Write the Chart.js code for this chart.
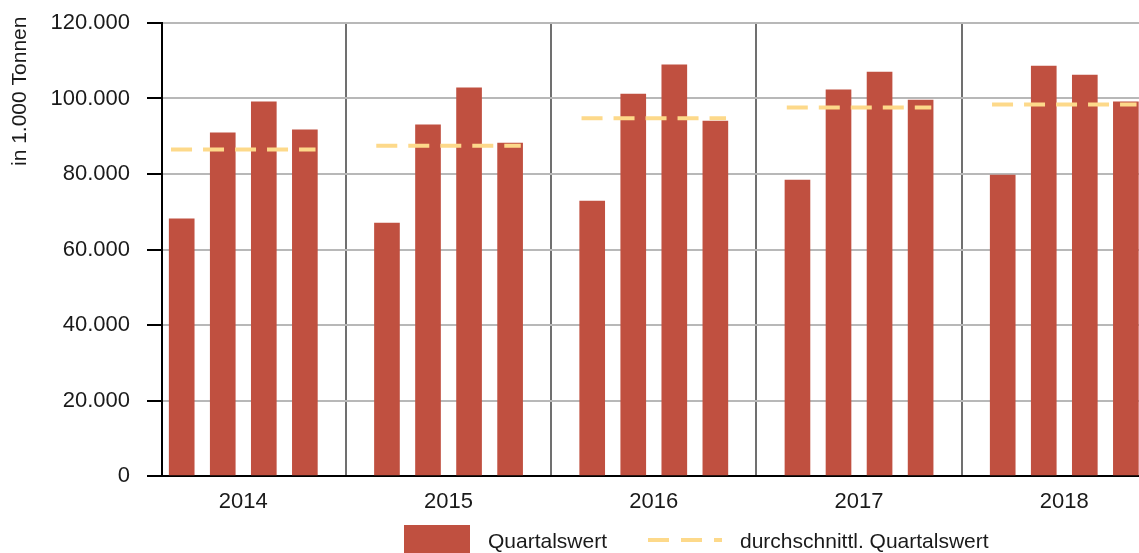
<!DOCTYPE html>
<html>
<head>
<meta charset="utf-8">
<script src="https://cdn.jsdelivr.net/npm/chart.js@4.4.1/dist/chart.umd.min.js"></script>
<style>
  html, body { margin: 0; padding: 0; background: #fff; }
  #wrap { width: 1139px; height: 553px; position: relative; }
</style>
</head>
<body>
<div id="wrap"><canvas id="myChart"></canvas></div>
<script>
// data (in 1.000 Tonnen)
var years = ['2014', '2015', '2016', '2017', '2018'];
var q1 = [68100, 67000, 72800, 78400, 79700];
var q2 = [90900, 93000, 101200, 102300, 108600];
var q3 = [99100, 102800, 108900, 107000, 106200];
var q4 = [91700, 88200, 94000, 99600, 99100];
var avg = [86500, 87500, 94800, 97600, 98400];
var yTicks = [0, 20000, 40000, 60000, 80000, 100000, 120000];

var barColor = '#c05040';
var avgColor = '#fdd98a';
var textColor = '#1a1a1a';
var fontFamily = '"Liberation Sans", Arial, sans-serif';

// each year gets one unit on the x axis, quarters sit 0.2 apart
var bars = [];
var lines = [];
years.forEach(function(y, i) {
  [q1, q2, q3, q4].forEach(function(q, k) {
    bars.push({ x: i + (k - 1.5) * 0.2, y: q[i] });
  });
  lines.push({ x: i - 0.352, y: avg[i] });
  lines.push({ x: i + 0.352, y: avg[i] });
  lines.push({ x: i + 0.5, y: null });
});

// axis title and legend, drawn by hand
var extrasPlugin = {
  id: 'extras',
  afterDraw: function(chart) {
    var ctx = chart.ctx;
    ctx.save();
    ctx.fillStyle = textColor;
    ctx.font = '21px ' + fontFamily;
    ctx.textBaseline = 'alphabetic';
    ctx.save();
    ctx.translate(26, 166);
    ctx.rotate(-Math.PI / 2);
    ctx.fillText('in 1.000 Tonnen', 0, 0);
    ctx.restore();

    ctx.fillStyle = barColor;
    ctx.fillRect(404, 525, 66, 30);
    ctx.strokeStyle = avgColor;
    ctx.lineWidth = 4;
    ctx.setLineDash([21, 12]);
    ctx.beginPath();
    ctx.moveTo(648, 540);
    ctx.lineTo(722, 540);
    ctx.stroke();
    ctx.setLineDash([]);
    ctx.fillStyle = textColor;
    ctx.fillText('Quartalswert', 488, 548);
    ctx.fillText('durchschnittl. Quartalswert', 740, 548);
    ctx.restore();
  }
};

var xMin = -0.396;
var xMax = 4.364;

var chart = new Chart(document.getElementById('myChart').getContext('2d'), {
  type: 'bar',
  data: {
    datasets: [
      {
        type: 'line',
        label: 'durchschnittl. Quartalswert',
        data: lines,
        borderColor: avgColor,
        borderWidth: 4,
        borderDash: [21, 11],
        pointRadius: 0,
        spanGaps: false,
        fill: false,
        order: 0
      },
      {
        label: 'Quartalswert',
        data: bars,
        backgroundColor: barColor,
        barThickness: 25,
        order: 1
      }
    ]
  },
  options: {
    responsive: true,
    maintainAspectRatio: false,
    animation: false,
    layout: { padding: { top: 23, right: 0, left: 0, bottom: 0 } },
    plugins: {
      legend: { display: false },
      tooltip: { enabled: false }
    },
    scales: {
      x: {
        type: 'linear',
        position: 'bottom',
        min: xMin,
        max: xMax,
        offset: false,
        afterBuildTicks: function(scale) {
          scale.ticks = years.map(function(y, i) { return { value: i }; });
        },
        afterFit: function(scale) {
          scale.height = 77;
          scale.paddingLeft = 0;
          scale.paddingRight = 0;
        },
        grid: { display: false, offset: false },
        border: { display: true, color: '#000', width: 2 },
        ticks: {
          padding: 5,
          color: textColor,
          font: { family: fontFamily, size: 22 },
          maxRotation: 0,
          autoSkip: false,
          callback: function(v) { return years[v]; }
        }
      },
      // vertical separators between the years
      xs: {
        type: 'linear',
        position: 'bottom',
        min: xMin,
        max: xMax,
        offset: false,
        afterBuildTicks: function(scale) {
          scale.ticks = years.slice(1).map(function(y, i) { return { value: i + 0.5 }; });
        },
        afterFit: function(scale) { scale.height = 0; },
        grid: { color: '#707070', lineWidth: 2, drawTicks: false, offset: false },
        border: { display: false },
        ticks: { display: false }
      },
      y: {
        min: 0,
        max: 120000,
        afterBuildTicks: function(scale) {
          scale.ticks = yTicks.map(function(v) { return { value: v }; });
        },
        afterFit: function(scale) {
          scale.width = 162;
          scale.paddingTop = 0;
          scale.paddingBottom = 0;
        },
        grid: { color: '#b8b8b8', lineWidth: 2, tickLength: 15, tickColor: '#000', tickWidth: 2 },
        border: { display: true, color: '#000', width: 2 },
        ticks: {
          padding: 17,
          color: textColor,
          font: { family: fontFamily, size: 22 },
          callback: function(v) { return v.toLocaleString('de-DE'); }
        }
      }
    }
  },
  plugins: [extrasPlugin]
});
</script>
</body>
</html>
